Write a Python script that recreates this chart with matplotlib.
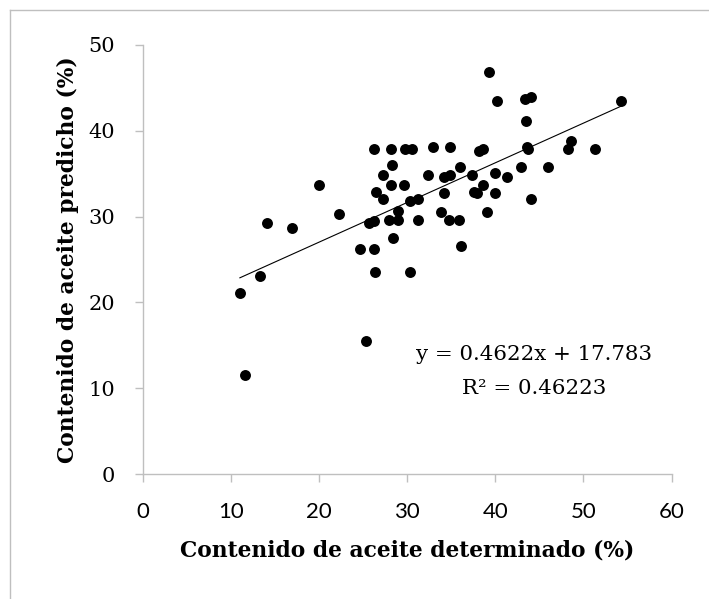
import matplotlib
matplotlib.use('Agg')
import matplotlib.pyplot as plt
from matplotlib.lines import Line2D

# determined vs predicted oil content (%)
determinado = [11.0, 11.6, 13.3, 14.1, 16.9, 20.0, 22.2, 24.6, 25.3, 25.7,
               26.2, 26.2, 26.2, 26.3, 26.4, 27.2, 27.3, 27.9, 28.2, 28.3,
               28.2, 28.4, 29.0, 28.9, 29.6, 29.8, 30.5, 30.3, 30.3, 31.2,
               31.2, 32.4, 32.9, 33.8, 34.2, 34.2, 34.7, 34.9, 34.9, 36.0,
               35.9, 36.1, 37.3, 37.6, 37.9, 38.1, 38.6, 38.6, 39.1, 39.3,
               40.0, 40.0, 40.2, 41.3, 42.9, 43.5, 43.4, 43.6, 43.7, 44.0,
               44.0, 46.0, 48.2, 48.6, 51.3, 54.3]
predicho = [21.1, 11.5, 23.1, 29.3, 28.7, 33.7, 30.3, 26.2, 15.5, 29.3,
            37.9, 29.5, 26.2, 23.5, 32.9, 34.8, 32.0, 29.6, 37.9, 36.0,
            33.7, 27.5, 29.6, 30.6, 33.7, 37.9, 37.9, 31.8, 23.5, 32.0,
            29.6, 34.8, 38.1, 30.5, 32.8, 34.6, 29.6, 38.1, 34.8, 35.8,
            29.6, 26.6, 34.8, 32.9, 32.7, 37.7, 37.9, 33.7, 30.5, 46.8,
            35.1, 32.7, 43.5, 34.6, 35.8, 41.2, 43.7, 38.1, 37.9, 43.9,
            32.0, 35.8, 37.9, 38.8, 37.9, 43.5]

pendiente = 0.4622
intercepto = 17.783
r2 = 0.46223

gris = '#bfbfbf'

fig = plt.figure(figsize=(7.09, 5.99), dpi=100)
ax = fig.add_axes([143 / 709, 1 - 474 / 599, 528.5 / 709, 429 / 599])

ax.scatter(determinado, predicho, s=62, color='black', zorder=3, linewidths=0)

# linear trendline from the fitted equation
x0, x1 = min(determinado), max(determinado)
ax.plot([x0, x1], [pendiente * x0 + intercepto, pendiente * x1 + intercepto],
        color='black', lw=0.8, zorder=2)

ax.text(44.4, 13.9, 'y = %.4fx + %.3f' % (pendiente, intercepto),
        ha='center', va='center', fontsize=15.4, family='DejaVu Serif')
ax.text(44.4, 10.0, 'R² = %.5f' % r2,
        ha='center', va='center', fontsize=15.4, family='DejaVu Serif')

ax.set_xlim(0, 60)
ax.set_ylim(0, 50)
ax.set_xticks(range(0, 61, 10))
ax.set_yticks(range(0, 51, 10))
for side in ['top', 'right']:
    ax.spines[side].set_visible(False)
for side in ['left', 'bottom']:
    ax.spines[side].set_color(gris)
    ax.spines[side].set_linewidth(1.0)
ax.tick_params(direction='out', length=6, width=1.0, color=gris, pad=14)
for lab in ax.get_xticklabels():
    lab.set_family('Lato')
    lab.set_fontsize(16)
for lab in ax.get_yticklabels():
    lab.set_family('DejaVu Serif')
    lab.set_fontsize(15)

fig.text(407 / 709, 1 - 550 / 599, 'Contenido de aceite determinado (%)',
         ha='center', va='center', fontsize=15.7, fontweight='bold',
         family='DejaVu Serif')
fig.text(68 / 709, 1 - 259.5 / 599, 'Contenido de aceite predicho (%)',
         ha='center', va='center', rotation=90, fontsize=15.7,
         fontweight='bold', family='DejaVu Serif')

# thin frame lines along the top and left edges
fig.add_artist(Line2D([10 / 709, 1], [1 - 10 / 599, 1 - 10 / 599],
                      transform=fig.transFigure, color=gris, lw=1))
fig.add_artist(Line2D([10 / 709, 10 / 709], [0, 1 - 10 / 599],
                      transform=fig.transFigure, color=gris, lw=1))

fig.savefig('out.png', dpi=100)
plt.close(fig)
